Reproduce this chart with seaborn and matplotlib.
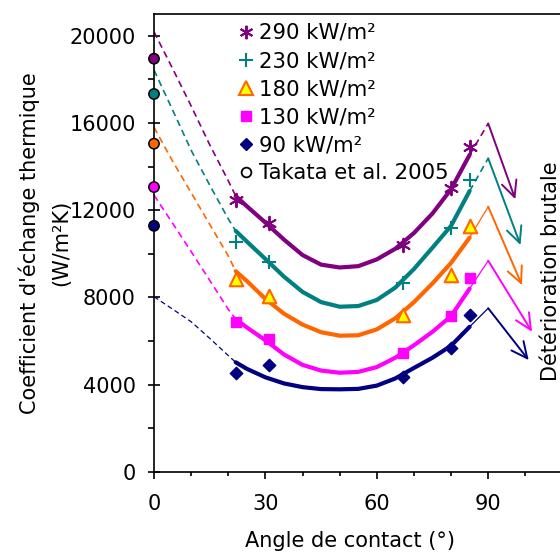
import matplotlib
matplotlib.use("Agg")
import matplotlib.pyplot as plt
from matplotlib.lines import Line2D
import seaborn as sns

# Heat flux series
flux_labels = ["290 kW/m²", "230 kW/m²", "180 kW/m²", "130 kW/m²", "90 kW/m²"]
colors = ["#800080", "#008080", "#FF6600", "#FF00FF", "#000080"]

# Measured heat transfer coefficients (W/m²K) versus contact angle (°)
angle_meas = [22, 31, 67, 80, 85]
h_290 = [12460, 11410, 10400, 13010, 14890]
h_230 = [10550, 9630, 8640, 11170, 13380]
h_180 = [8830, 8060, 7190, 9020, 11270]
h_130 = [6850, 6090, 5430, 7140, 8900]
h_90 = [4540, 4890, 4360, 5660, 7190]

# Takata et al. 2005, fully wetting surface
takata_angle = [0, 0, 0, 0, 0]
takata_h = [18950, 17330, 15050, 13060, 11280]

# Trend curves over the measured range
angle_fit = [22, 25, 30, 35, 40, 45, 50, 55, 60, 65, 70, 75, 80, 85]
fit_290 = [12650, 12180, 11430, 10650, 9940, 9500, 9370, 9430, 9740, 10230, 10950, 11850, 12960, 14540]
fit_230 = [11050, 10560, 9760, 8950, 8250, 7780, 7570, 7600, 7880, 8450, 9300, 10280, 11280, 12880]
fit_180 = [9200, 8750, 7930, 7250, 6750, 6400, 6240, 6260, 6530, 7040, 7780, 8640, 9580, 10740]
fit_130 = [7000, 6620, 6030, 5380, 4900, 4640, 4540, 4580, 4800, 5230, 5800, 6420, 7140, 8400]
fit_90 = [5020, 4720, 4330, 4050, 3880, 3790, 3780, 3800, 3950, 4280, 4760, 5230, 5780, 6650]

# Extrapolation towards zero contact angle
angle_ext = [0, 5, 10, 15, 20, 22]
ext_290 = [20180, 18500, 16780, 15000, 13350, 12650]
ext_230 = [18430, 16600, 14750, 13150, 11600, 11050]
ext_180 = [15800, 14250, 12800, 11350, 9900, 9200]
ext_130 = [12690, 11400, 10100, 8780, 7450, 7000]
ext_90 = [8030, 7460, 6880, 6120, 5330, 5020]

# Sudden degradation near 90°
angle_peak = [90, 90, 90, 90, 90]
h_peak = [15980, 14380, 12160, 9680, 7500]
angle_drop = [97.3, 98.7, 99.1, 101.8, 100.9]
h_drop = [12500, 10400, 8560, 6420, 5120]

meas = [h_290, h_230, h_180, h_130, h_90]
fits = [fit_290, fit_230, fit_180, fit_130, fit_90]
exts = [ext_290, ext_230, ext_180, ext_130, ext_90]

sns.set_theme(style="ticks")
plt.rcParams["font.family"] = ["DejaVu Sans"]
plt.rcParams["font.size"] = 15
plt.rcParams["text.color"] = "black"
plt.rcParams["axes.labelcolor"] = "black"
plt.rcParams["xtick.color"] = "black"
plt.rcParams["ytick.color"] = "black"

fig = plt.figure(figsize=(5.6, 5.55), dpi=100)
ax = fig.add_axes([154 / 560, 83.3 / 555, 445.6 / 560, 457.7 / 555])

dash = (0, (4, 2.6))
for i, c in enumerate(colors):
    # left extrapolation
    sns.lineplot(x=angle_ext, y=exts[i], ax=ax, color=c, lw=1.2 if i < 4 else 0.9,
                 linestyle=dash, estimator=None, sort=False, zorder=2)
    # fitted trend
    sns.lineplot(x=angle_fit, y=fits[i], ax=ax, color=c, lw=3.0,
                 estimator=None, sort=False, zorder=3)
    # connection to the peak at 90°
    sns.lineplot(x=[angle_fit[-1], angle_peak[i]], y=[fits[i][-1], h_peak[i]], ax=ax,
                 color=c, lw=1.2 if i < 2 else 0.9,
                 linestyle=dash if i < 2 else "-", estimator=None, sort=False, zorder=2)
    ax.annotate("", xy=(angle_drop[i], h_drop[i]), xytext=(angle_peak[i], h_peak[i]),
                arrowprops=dict(arrowstyle="->,head_length=1.15,head_width=0.55",
                                color=c, lw=1.4, shrinkA=0, shrinkB=0,
                                mutation_scale=10), zorder=2)

# measured points
sns.scatterplot(x=angle_meas, y=h_290, ax=ax, marker=(6, 2, 0), color=colors[0],
                s=95, linewidth=1.4, zorder=5)
sns.scatterplot(x=angle_meas, y=h_230, ax=ax, marker="+", color=colors[1],
                s=110, linewidth=1.5, zorder=5)
sns.scatterplot(x=angle_meas, y=h_180, ax=ax, marker="^", color="#FFFF00",
                edgecolor=colors[2], s=95, linewidth=1.5, zorder=5)
sns.scatterplot(x=angle_meas, y=h_130, ax=ax, marker="s", color=colors[3],
                edgecolor=colors[3], s=60, linewidth=1, zorder=5)
sns.scatterplot(x=angle_meas, y=h_90, ax=ax, marker="D", color=colors[4],
                edgecolor=colors[4], s=40, linewidth=1, zorder=5)
sns.scatterplot(x=takata_angle, y=takata_h, ax=ax, marker="o", hue=flux_labels,
                palette=colors, edgecolor="black", s=55, linewidth=1.1,
                zorder=6, clip_on=False, legend=False)

ax.set_xlim(0, 120)
ax.set_ylim(0, 21000)
ax.set_xticks([0, 30, 60, 90])
ax.set_xticks(range(0, 121, 10), minor=True)
ax.set_yticks(range(0, 20001, 4000))
ax.set_yticks(range(0, 21000, 2000), minor=True)
ax.tick_params(axis="y", which="major", direction="inout", length=8, width=1.2,
               pad=9, labelsize=15)
ax.tick_params(axis="y", which="minor", direction="out", length=4, width=1.2,
               left=True)
ax.tick_params(axis="x", which="major", direction="out", length=5, width=1.2,
               pad=11, labelsize=15)
ax.tick_params(axis="x", which="minor", direction="out", length=3, width=1.2,
               bottom=True)
for side in ["left", "bottom", "top"]:
    ax.spines[side].set_color("black")
    ax.spines[side].set_linewidth(1.2)
ax.spines["right"].set_visible(False)

ax.set_xlabel("Angle de contact (°)", fontsize=15)
ax.xaxis.set_label_coords(0.44, -0.13)
ax.set_ylabel("Coefficient d'échange thermique\n(W/m²K)", fontsize=15,
              linespacing=1.75, va="center", ha="center")
ax.yaxis.set_label_coords(-0.245, 0.5)

ax.text(107.0, 9200, "Détérioration brutale", rotation=90, ha="center",
        va="center", fontsize=15)

handles = [
    Line2D([], [], ls="", marker=(6, 2, 0), color=colors[0], ms=9.7, mew=1.4),
    Line2D([], [], ls="", marker="+", color=colors[1], ms=10.5, mew=1.5),
    Line2D([], [], ls="", marker="^", mfc="#FFFF00", mec=colors[2], ms=9.7, mew=1.5),
    Line2D([], [], ls="", marker="s", color=colors[3], ms=7.7),
    Line2D([], [], ls="", marker="D", color=colors[4], ms=6.3),
    Line2D([], [], ls="", marker="o", mfc="white", mec="black", ms=7, mew=1.3),
]
labels = flux_labels + ["Takata et al. 2005"]
ax.legend(handles, labels, loc="upper left", bbox_to_anchor=(237.7 / 560, 532 / 555),
          bbox_transform=fig.transFigure, frameon=False, borderpad=0,
          borderaxespad=0, handlelength=0.8, handletextpad=0.22,
          labelspacing=0.38, fontsize=15.3)

fig.savefig("out.png", dpi=100)
